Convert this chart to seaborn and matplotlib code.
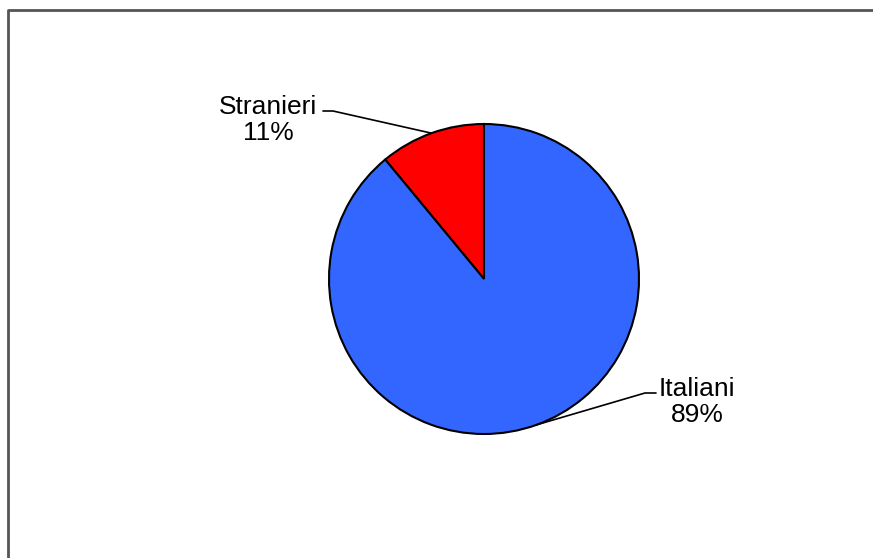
import numpy as np
import matplotlib
matplotlib.use("Agg")
import matplotlib.pyplot as plt
import seaborn as sns

labels  = ["Stranieri", "Italiani"]
values  = [11, 89]
colors  = ["#FF0000", "#3366FF"]

sns.set_theme(style="white")
plt.rcParams['font.family'] = ['Liberation Sans', 'DejaVu Sans']

fig = plt.figure(figsize=(8.73, 5.58), dpi=100)
ax = fig.add_axes([0, 0, 1, 1])
ax.axis('off')

# chart frame (cut on the right and bottom like the original)
ax.plot([8, 8, 880], [-10, 548, 548], color="#555555", lw=2, solid_capstyle='butt')

cx, cy, r = 484, 279, 155
wedges, _ = ax.pie(values, colors=colors, startangle=90, counterclock=True,
                   center=(cx, cy), radius=r,
                   wedgeprops=dict(edgecolor="black", linewidth=1.5))
ax.set_xlim(0, 873)
ax.set_ylim(0, 558)
ax.set_aspect('equal')

# labels with leader lines to the middle of each wedge's arc
label_pos = [(268, 438), (697, 156)]
elbows    = [((323, 447), (333, 447)), ((656, 165), (645, 165))]
for w, lab, v, pos, (e0, e1) in zip(wedges, labels, values, label_pos, elbows):
    ang = np.deg2rad((w.theta1 + w.theta2) / 2)
    px, py = cx + r * np.cos(ang), cy + r * np.sin(ang)
    ax.plot([e0[0], e1[0], px], [e0[1], e1[1], py], color="black", lw=1.2)
    ax.text(pos[0], pos[1], f"{lab}\n{v}%", ha="center", va="center",
            fontsize=19, linespacing=1.12, color="black")

fig.savefig("out.png", dpi=100)
